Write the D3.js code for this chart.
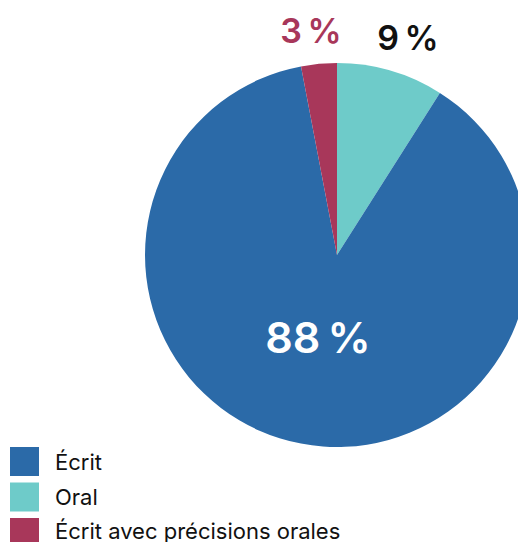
<!DOCTYPE html>
<html>
<head>
<meta charset="utf-8">
<script src="https://cdn.jsdelivr.net/npm/d3@7"></script>
<style>
  html, body { margin: 0; padding: 0; background: #fff; }
  svg { display: block; font-family: Inter, "Open Sans", sans-serif; }
</style>
</head>
<body>
<svg id="chart" width="518" height="542"></svg>
<script>
// Slice order follows the clockwise drawing order from 12 o'clock
const categories = ["Oral", "Écrit", "Écrit avec précisions orales"];
const values = [9, 88, 3];
const colors = ["#6ecbc9", "#2b6aa8", "#a8375a"];
const valueLabels = ["9\u2009%", "88\u2009%", "3\u2009%"];
// Legend order
const legendOrder = ["Écrit", "Oral", "Écrit avec précisions orales"];

const svg = d3.select("#chart");
const cx = 337, cy = 255, radius = 192;

const color = d3.scaleOrdinal().domain(categories).range(colors);

const pie = d3.pie().sort(null).value(d => d.value);
const arcs = pie(categories.map((c, i) => ({ name: c, value: values[i], label: valueLabels[i] })));
const arc = d3.arc().innerRadius(0).outerRadius(radius);

const g = svg.append("g").attr("transform", `translate(${cx},${cy})`);
g.selectAll("path")
  .data(arcs)
  .join("path")
  .attr("d", arc)
  .attr("fill", d => color(d.data.name));

// Value labels: inside for the big slice, outside above for the small ones
const labelStyle = {
  "Écrit": { pos: [-19, 98], fill: "#ffffff", size: 43, weight: 600 },
  "Oral": { pos: [71, -205], fill: "#111111", size: 34, weight: 600 },
  "Écrit avec précisions orales": { pos: [-26, -212], fill: "#a8375a", size: 34, weight: 600 }
};
g.selectAll("text.val")
  .data(arcs)
  .join("text")
  .attr("class", "val")
  .attr("x", d => labelStyle[d.data.name].pos[0])
  .attr("y", d => labelStyle[d.data.name].pos[1])
  .attr("text-anchor", "middle")
  .attr("fill", d => labelStyle[d.data.name].fill)
  .attr("font-size", d => labelStyle[d.data.name].size)
  .attr("font-weight", d => labelStyle[d.data.name].weight)
  .text(d => d.data.label);

// Legend
const legend = svg.append("g").attr("transform", "translate(10,447)");
const item = legend.selectAll("g")
  .data(legendOrder)
  .join("g");
item.append("rect")
  .attr("y", (d, i) => i * 35.5)
  .attr("width", 29).attr("height", 29)
  .attr("fill", d => color(d));
item.append("text")
  .attr("x", 45).attr("y", (d, i) => 23 + i * 34.5)
  .attr("font-size", 22)
  .attr("fill", "#111")
  .text(d => d);
</script>
</body>
</html>
